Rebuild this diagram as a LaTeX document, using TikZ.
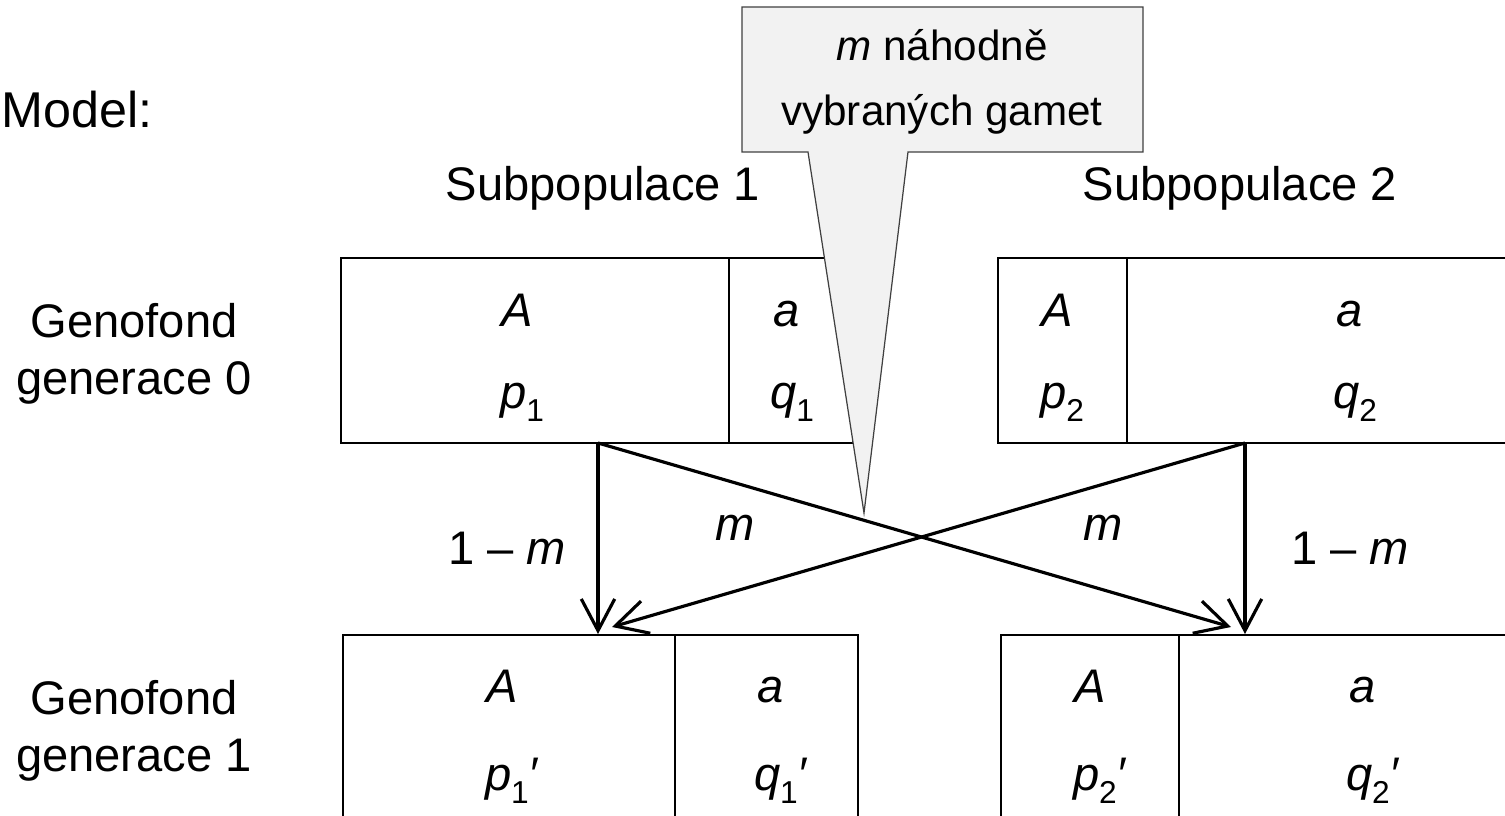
\documentclass[tikz,border=0pt]{standalone}
\usepackage{fontspec}
\setmainfont{Liberation Sans}
\usetikzlibrary{arrows.meta}
\definecolor{calloutfill}{HTML}{F2F2F2}
\definecolor{calloutdraw}{HTML}{404040}
\newcommand{\pr}{\char"2032}
\newcommand{\sbs}[1]{\raisebox{-0.27em}{\fontsize{9}{9}\selectfont #1}}
\begin{document}
\begin{tikzpicture}[x=0.01cm,y=-0.01cm,
  cell/.style={draw=black, line width=0.75pt, rectangle, inner sep=0pt},
  txt/.style={font=\fontsize{13.4}{16}\selectfont, inner sep=0pt, anchor=center},
  btxt/.style={font=\fontsize{13.4}{16}\selectfont, inner sep=0pt, anchor=base},
  ctxt/.style={font=\fontsize{12}{18.5}\selectfont, align=center, inner sep=0pt},
  arr/.style={line width=0.9pt, -{Straight Barb[length=9pt,width=9.5pt,line width=0.9pt]}},
  callout/.style={fill=calloutfill, draw=calloutdraw, line width=0.35pt, line join=miter}]
\useasboundingbox (0,0) rectangle (1505,816);
\clip (0,0) rectangle (1505,816);
% labels
\node[txt, font=\fontsize{14.3}{17}\selectfont] (model) at (77,110) {Model:};
\node[txt, align=center, font=\fontsize{13.4}{16.2}\selectfont] (g0) at (134,354) {Genofond\\generace 0};
\node[txt, align=center, font=\fontsize{13.4}{16.2}\selectfont] (g1) at (134,731) {Genofond\\generace 1};
\node[txt] (sp1) at (603,188) {Subpopulace 1};
\node[txt] (sp2) at (1240,188) {Subpopulace 2};
% top boxes
\node[cell, minimum width=388*0.01cm, minimum height=185*0.01cm] (A1) at (535,350.5) {};
\node[cell, minimum width=124*0.01cm, minimum height=185*0.01cm] (a1) at (791,350.5) {};
\node[cell, minimum width=129*0.01cm, minimum height=185*0.01cm] (A2) at (1062.5,350.5) {};
\node[cell, minimum width=433*0.01cm, minimum height=185*0.01cm] (a2) at (1343.5,350.5) {};
% bottom boxes
\node[cell, minimum width=332*0.01cm, minimum height=265*0.01cm] (B1) at (509,767.5) {};
\node[cell, minimum width=183*0.01cm, minimum height=265*0.01cm] (b1) at (766.5,767.5) {};
\node[cell, minimum width=178*0.01cm, minimum height=265*0.01cm] (B2) at (1090,767.5) {};
\node[cell, minimum width=381*0.01cm, minimum height=265*0.01cm] (b2) at (1369.5,767.5) {};
% top texts
\node[btxt] (tA1) at (517,327) {\textit{A}};
\node[btxt] (tp1) at (522,409) {\textit{p}\sbs{1}};
\node[btxt] (ta1) at (787,327) {\textit{a}};
\node[btxt] (tq1) at (792,409) {\textit{q}\sbs{1}};
\node[btxt] (tA2) at (1057,327) {\textit{A}};
\node[btxt] (tp2) at (1062,409) {\textit{p}\sbs{2}};
\node[btxt] (ta2) at (1350,327) {\textit{a}};
\node[btxt] (tq2) at (1355,409) {\textit{q}\sbs{2}};
% bottom texts
\node[btxt] (tB1) at (502,703) {\textit{A}};
\node[btxt] (tpp1) at (512,791) {\textit{p}\sbs{1}\textit{\pr}};
\node[btxt] (tb1) at (771,703) {\textit{a}};
\node[btxt] (tqq1) at (781,791) {\textit{q}\sbs{1}\textit{\pr}};
\node[btxt] (tB2) at (1090,703) {\textit{A}};
\node[btxt] (tpp2) at (1100,791) {\textit{p}\sbs{2}\textit{\pr}};
\node[btxt] (tb2) at (1363,703) {\textit{a}};
\node[btxt] (tqq2) at (1373,791) {\textit{q}\sbs{2}\textit{\pr}};
% arrow coordinates
\coordinate (s1) at (598,443);
\coordinate (s2) at (1245,443);
\coordinate (e1) at (598,634);
\coordinate (e2) at (1245,634);
\coordinate (d1) at (612,627);
\coordinate (d2) at (1231,627);
\draw[arr] (s1) -- (e1);
\draw[arr] (s2) -- (e2);
\draw[arr] (s1) -- (d2);
\draw[arr] (s2) -- (d1);
% arrow labels
\node[txt] (l1) at (507,548) {1 – \textit{m}};
\node[txt] (m1) at (735,528) {\textit{m}};
\node[txt] (m2) at (1103,528) {\textit{m}};
\node[txt] (l2) at (1350,548) {1 – \textit{m}};
% callout
\draw[callout] (742,7) -- (1143,7) -- (1143,152) -- (908,152) -- (864,513) -- (808,152) -- (742,152) -- cycle;
\node[ctxt] (ct) at (942,82) {\textit{m} náhodně\\vybraných gamet};
\end{tikzpicture}
\end{document}
